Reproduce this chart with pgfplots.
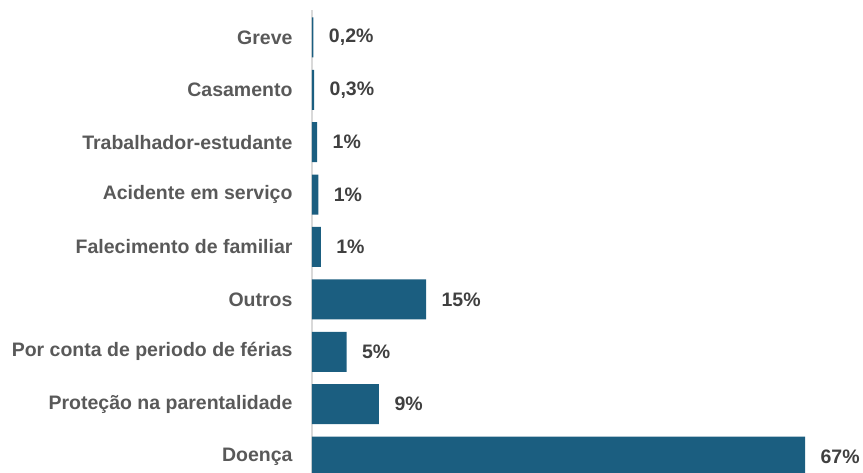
\documentclass[border=0pt]{standalone}
\usepackage{pgfplots}
\pgfplotsset{compat=1.18}
\usepackage{fontspec}
\setmainfont{Liberation Sans}
\definecolor{barc}{HTML}{1B5E80}
\definecolor{labc}{HTML}{595959}
\definecolor{valc}{HTML}{404040}
\begin{document}
\begin{tikzpicture}[x=1pt,y=1pt]
\begin{axis}[
  anchor=origin, at={(0,0)},
  x=7.36pt, y=52.4pt,
  xmin=0, xmax=74.8, ymin=-0.5, ymax=8.52,
  xbar, bar width=40pt, bar shift=0pt,
  axis x line=none,
  axis y line*=left,
  axis line style={draw=black!15, line width=1.2pt},
  ytick={0,1,2,3,4,5,6,7,8},
  yticklabels={Doença, Proteção na parentalidade, Por conta de periodo de férias, Outros, Falecimento de familiar, Acidente em serviço, Trabalhador-estudante, Casamento, Greve},
  major tick length=0pt,
  yticklabel style={font=\bfseries\fontsize{19.5}{19.5}\selectfont, text=labc, anchor=east, xshift=-16pt},
  nodes near coords,
  point meta=explicit symbolic,
  nodes near coords style={font=\bfseries\fontsize{19.5}{19.5}\selectfont, text=valc, anchor=west, xshift=12pt},
  clip=false,
]
\addplot[fill=barc, draw=none] coordinates {
  (67,0) [67\%]
  (9.1,1) [9\%]
  (4.7,2) [5\%]
  (15.5,3) [15\%]
  (1.2,4) [1\%]
  (0.85,5) [1\%]
  (0.7,6) [1\%]
  (0.3,7) [0,3\%]
  (0.2,8) [0,2\%]
};
\end{axis}
\pgfresetboundingbox
\useasboundingbox (-312,-16.4) rectangle (551,456.6);
\end{tikzpicture}
\end{document}
